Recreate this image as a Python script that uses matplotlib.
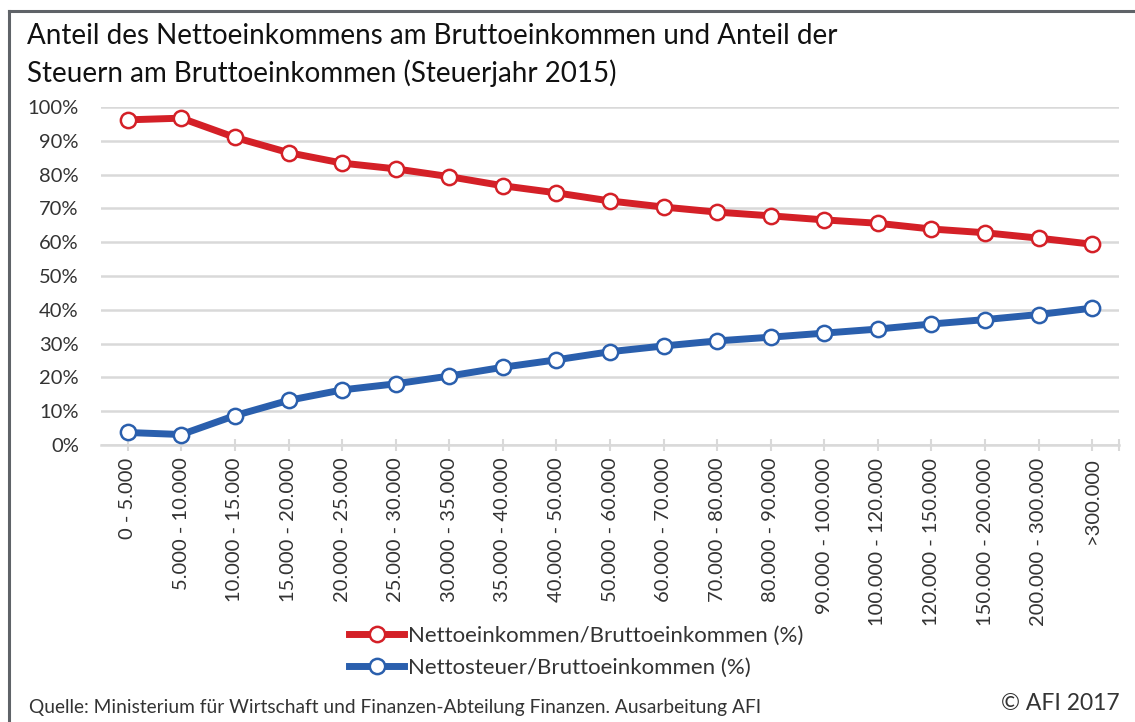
import matplotlib.pyplot as plt
from matplotlib.lines import Line2D
import numpy as np

plt.rcParams['font.family'] = ['Lato', 'DejaVu Sans']

categories = ["0 - 5.000", "5.000 - 10.000", "10.000 - 15.000", "15.000 - 20.000",
              "20.000 - 25.000", "25.000 - 30.000", "30.000 - 35.000", "35.000 - 40.000",
              "40.000 - 50.000", "50.000 - 60.000", "60.000 - 70.000", "70.000 - 80.000",
              "80.000 - 90.000", "90.000 - 100.000", "100.000 - 120.000", "120.000 - 150.000",
              "150.000 - 200.000", "200.000 - 300.000", ">300.000"]
netto = [96.2, 96.7, 91.0, 86.5, 83.4, 81.7, 79.4, 76.7, 74.6, 72.2,
         70.4, 68.9, 67.8, 66.6, 65.6, 63.9, 62.8, 61.2, 59.4]
steuer = [3.7, 3.1, 8.7, 13.2, 16.3, 18.1, 20.4, 23.0, 25.2, 27.6,
          29.3, 30.8, 31.9, 33.1, 34.3, 35.8, 37.1, 38.6, 40.5]
yticks = [0, 10, 20, 30, 40, 50, 60, 70, 80, 90, 100]

red = "#d42027"
blue = "#2a5fad"
grid = "#d9d9d9"
txt = "#333333"

fig = plt.figure(figsize=(11.35, 7.22), dpi=100)
ax = fig.add_axes([101 / 1135, 1 - 445 / 722, (1119 - 101) / 1135, (445 - 107) / 722])

x = np.arange(len(categories))
ax.plot(x, netto, color=red, lw=5, marker="o", ms=11, mfc="white", mec=red, mew=1.8, zorder=3)
ax.plot(x, steuer, color=blue, lw=5, marker="o", ms=11, mfc="white", mec=blue, mew=1.8, zorder=3)

ax.set_xlim(-0.5, len(categories) - 0.5)
ax.set_ylim(0, 100)
ax.set_yticks(yticks)
ax.set_yticklabels([f"{v}%" for v in yticks], fontsize=14.5, color=txt)
ax.yaxis.grid(True, color=grid, lw=1.8)
ax.set_axisbelow(True)
for s in ["top", "right", "left"]:
    ax.spines[s].set_visible(False)
ax.spines["bottom"].set_color(grid)
ax.spines["bottom"].set_linewidth(1.8)
ax.tick_params(axis="y", length=0, pad=16)

ax.set_xticks(list(x) + [len(categories) - 0.5])
ax.set_xticklabels(categories + [""], rotation=90, fontsize=14.5, color=txt, va="top")
ax.tick_params(axis="x", direction="inout", length=8, width=1.5, color=grid, pad=5)

fig.text(27 / 1135, 1 - 36 / 722, "Anteil des Nettoeinkommens am Bruttoeinkommen und Anteil der",
         fontsize=20, va="center", color="#111111")
fig.text(27 / 1135, 1 - 73 / 722, "Steuern am Bruttoeinkommen (Steuerjahr 2015)",
         fontsize=20, va="center", color="#111111")

handles = [Line2D([0], [0], color=red, lw=5, marker="o", ms=11, mfc="white", mec=red, mew=1.8),
           Line2D([0], [0], color=blue, lw=5, marker="o", ms=11, mfc="white", mec=blue, mew=1.8)]
fig.legend(handles, ["Nettoeinkommen/Bruttoeinkommen (%)", "Nettosteuer/Bruttoeinkommen (%)"],
           loc="center", bbox_to_anchor=(576 / 1135, 1 - 652 / 722), frameon=False,
           fontsize=16, handlelength=2.5, handletextpad=0.15, labelspacing=0.55,
           labelcolor=txt, borderpad=0.2)

fig.text(29 / 1135, 1 - 708 / 722, "Quelle: Ministerium für Wirtschaft und Finanzen-Abteilung Finanzen. Ausarbeitung AFI",
         fontsize=13.8, va="center", color=txt)
fig.text(1120 / 1135, 1 - 704 / 722, "© AFI 2017", fontsize=16.5, va="center", ha="right", color=txt)

# frame around the figure
fig.add_artist(Line2D([9 / 1135, 9 / 1135], [0, 1 - 11 / 722], color="#5f6368", lw=2.2))
fig.add_artist(Line2D([9 / 1135, 1], [1 - 11 / 722, 1 - 11 / 722], color="#5f6368", lw=2.2))

fig.savefig("out.png", dpi=100)
